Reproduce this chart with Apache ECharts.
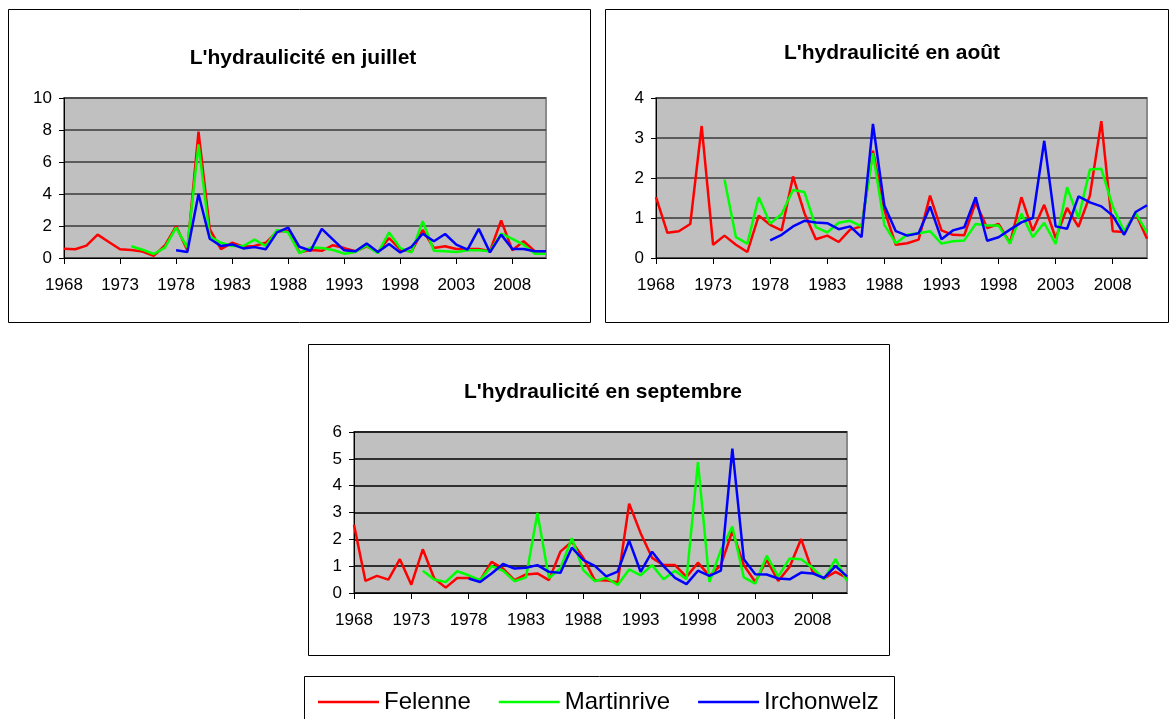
<!DOCTYPE html>
<html>
<head>
<meta charset="utf-8">
<script src="https://cdn.jsdelivr.net/npm/echarts@6/dist/echarts.min.js"></script>
<style>
  html, body { margin: 0; padding: 0; background: #fff; }
  #chart { width: 1176px; height: 719px; }
</style>
</head>
<body>
<div id="chart"></div>
<script>
// années 1968 - 2011
const years = []
for (let y = 1968; y <= 2011; y++) years.push(String(y))

const names = ['Felenne', 'Martinrive', 'Irchonwelz']
const colors = ['#ff0000', '#00ff00', '#0000ff']
const titles = ["L'hydraulicité en juillet", "L'hydraulicité en août", "L'hydraulicité en septembre"]

// juillet
const julFelenne = [0.58, 0.55, 0.77, 1.46, 1.0, 0.55, 0.5, 0.4, 0.13, 0.78, 2.0, 0.48, 7.9, 1.8, 0.55, 0.95, 0.7, 0.75, 0.95, 1.65, 1.7, 0.35, 0.5, 0.45, 0.8, 0.62, 0.42, 0.73, 0.38, 1.25, 0.52, 0.4, 1.75, 0.62, 0.73, 0.56, 0.56, 0.56, 0.42, 2.35, 0.48, 1.05, 0.42, 0.42]
const julMartinrive = [null, null, null, null, null, null, 0.73, 0.52, 0.25, 0.65, 1.9, 0.65, 7.1, 1.35, 0.95, 0.75, 0.75, 1.15, 0.75, 1.75, 1.6, 0.3, 0.65, 0.63, 0.5, 0.27, 0.38, 0.77, 0.3, 1.6, 0.62, 0.35, 2.3, 0.45, 0.42, 0.38, 0.48, 0.48, 0.42, 1.52, 1.2, 0.83, 0.27, 0.27]
const julIrchonwelz = [null, null, null, null, null, null, null, null, null, null, 0.48, 0.38, 4.0, 1.2, 0.75, 0.85, 0.6, 0.68, 0.55, 1.6, 1.9, 0.7, 0.45, 1.82, 1.15, 0.48, 0.42, 0.9, 0.38, 0.88, 0.35, 0.7, 1.52, 1.05, 1.5, 0.83, 0.52, 1.82, 0.35, 1.46, 0.56, 0.56, 0.42, 0.42]

// août
const aouFelenne = [1.52, 0.63, 0.67, 0.85, 3.3, 0.33, 0.56, 0.33, 0.15, 1.06, 0.83, 0.69, 2.04, 1.12, 0.47, 0.56, 0.4, 0.71, 0.79, 2.68, 1.2, 0.33, 0.37, 0.46, 1.56, 0.69, 0.58, 0.57, 1.39, 0.75, 0.85, 0.37, 1.52, 0.68, 1.33, 0.5, 1.25, 0.78, 1.56, 3.42, 0.67, 0.65, 1.12, 0.48]
const aouMartinrive = [null, null, null, null, null, null, 1.96, 0.52, 0.36, 1.52, 0.86, 1.1, 1.7, 1.65, 0.77, 0.64, 0.88, 0.93, 0.79, 2.62, 0.83, 0.37, 0.58, 0.62, 0.67, 0.36, 0.42, 0.44, 0.85, 0.81, 0.81, 0.36, 1.11, 0.52, 0.88, 0.35, 1.77, 1.0, 2.21, 2.23, 1.29, 0.67, 1.12, 0.64]
const aouIrchonwelz = [null, null, null, null, null, null, null, null, null, null, 0.44, 0.58, 0.79, 0.93, 0.89, 0.87, 0.72, 0.79, 0.52, 3.35, 1.31, 0.67, 0.56, 0.62, 1.29, 0.47, 0.69, 0.77, 1.52, 0.43, 0.52, 0.71, 0.89, 1.0, 2.93, 0.79, 0.73, 1.54, 1.39, 1.29, 1.06, 0.58, 1.15, 1.32]

// septembre
const sepFelenne = [2.54, 0.45, 0.64, 0.5, 1.26, 0.31, 1.63, 0.54, 0.2, 0.56, 0.56, 0.48, 1.16, 0.91, 0.48, 0.69, 0.73, 0.48, 1.54, 1.91, 1.31, 0.48, 0.47, 0.4, 3.33, 2.23, 1.31, 1.04, 1.04, 0.6, 1.13, 0.64, 1.04, 2.31, 1.04, 0.41, 1.23, 0.45, 0.98, 2.01, 0.79, 0.54, 0.79, 0.56]
const sepMartinrive = [null, null, null, null, null, null, 0.83, 0.5, 0.41, 0.81, 0.66, 0.48, 1.0, 0.83, 0.44, 0.58, 2.98, 0.56, 0.91, 2.04, 0.85, 0.44, 0.57, 0.3, 0.88, 0.66, 1.04, 0.51, 0.83, 0.51, 4.88, 0.41, 1.6, 2.48, 0.58, 0.35, 1.39, 0.62, 1.29, 1.26, 0.94, 0.51, 1.26, 0.45]
const sepIrchonwelz = [null, null, null, null, null, null, null, null, null, null, 0.54, 0.41, 0.73, 1.08, 0.91, 0.94, 1.04, 0.79, 0.75, 1.69, 1.23, 1.01, 0.62, 0.8, 1.95, 0.79, 1.54, 1.0, 0.56, 0.33, 0.83, 0.64, 0.83, 5.38, 1.26, 0.7, 0.69, 0.54, 0.51, 0.76, 0.73, 0.56, 1.0, 0.62]

const yMax = [10, 4, 6]
const yStep = [2, 1, 1]

const font = "'Liberation Sans', Arial, sans-serif"

// placement des trois cadres
const panels = [
  { box: [8, 9, 582, 313], grid: { left: 64, top: 98, width: 482, height: 160 }, titleX: 298, titleY: 43, grid_c: '#3a3a3a', data: [julFelenne, julMartinrive, julIrchonwelz] },
  { box: [605, 9, 563, 313], grid: { left: 656, top: 98, width: 491, height: 160 }, titleX: 887, titleY: 38, grid_c: '#3a3a3a', data: [aouFelenne, aouMartinrive, aouIrchonwelz] },
  { box: [308, 344, 581, 311], grid: { left: 354, top: 432, width: 493, height: 161 }, titleX: 598, titleY: 377, grid_c: '#000', data: [sepFelenne, sepMartinrive, sepIrchonwelz] }
]

const myChart = echarts.init(document.getElementById('chart'))

const title = [], grid = [], xAxis = [], yAxis = [], series = [], graphic = []
panels.forEach(function (p, k) {
  graphic.push({
    type: 'rect', z: -1,
    shape: { x: p.box[0] + 0.5, y: p.box[1] + 0.5, width: p.box[2], height: p.box[3] },
    style: { fill: '#fff', stroke: '#000', lineWidth: 1 }
  })
  title.push({
    text: titles[k], left: p.titleX, top: p.titleY, textAlign: 'center',
    textStyle: { fontFamily: font, fontSize: 21, fontWeight: 'bold', color: '#000' }
  })
  grid.push(Object.assign({
    show: true, backgroundColor: '#c0c0c0', borderColor: '#8a8a8a', borderWidth: 2
  }, p.grid))
  xAxis.push({
    type: 'category', gridIndex: k, data: years, boundaryGap: false,
    axisLine: { lineStyle: { color: '#000', width: 1 } },
    axisTick: { interval: 4, length: 6, lineStyle: { color: '#000' } },
    axisLabel: { interval: 4, margin: 19, fontFamily: font, fontSize: 17, color: '#000' },
    splitLine: { show: false }
  })
  yAxis.push({
    type: 'value', gridIndex: k, min: 0, max: yMax[k], interval: yStep[k],
    axisLine: { show: true, lineStyle: { color: '#000', width: 1 } },
    axisTick: { show: true, length: 5, lineStyle: { color: '#000' } },
    axisLabel: { margin: 12, fontFamily: font, fontSize: 17, color: '#000' },
    splitLine: { lineStyle: { color: p.grid_c, width: 1.5 } }
  })
  p.data.forEach(function (d, j) {
    series.push({
      name: names[j], type: 'line', xAxisIndex: k, yAxisIndex: k,
      data: d, showSymbol: false, symbol: 'none',
      lineStyle: { color: colors[j], width: 2.5 },
      itemStyle: { color: colors[j] }
    })
  })
})

// cadre de la légende
graphic.push({
  type: 'rect', z: -1,
  shape: { x: 304.5, y: 676.5, width: 590, height: 60 },
  style: { fill: '#fff', stroke: '#000', lineWidth: 1 }
})

let option = {
  animation: false,
  backgroundColor: '#fff',
  title: title,
  grid: grid,
  xAxis: xAxis,
  yAxis: yAxis,
  legend: {
    data: names, left: 313, top: 685, icon: 'rect',
    itemWidth: 61, itemHeight: 2.5, itemGap: 28, selectedMode: false,
    textStyle: { fontFamily: font, fontSize: 24, color: '#000' }
  },
  graphic: graphic,
  series: series
}
myChart.setOption(option)
</script>
</body>
</html>
